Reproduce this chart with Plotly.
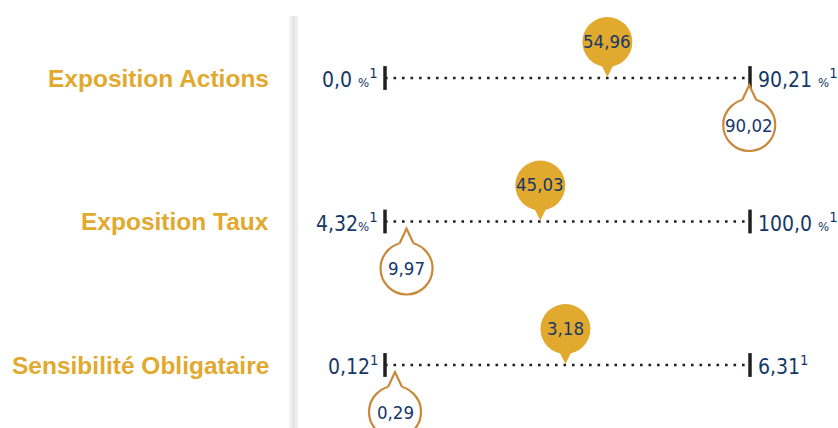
import plotly.graph_objects as go

# ---- data ----
rows = ["Exposition Actions", "Exposition Taux", "Sensibilité Obligataire"]
range_min = [0.0, 4.32, 0.12]
range_max = [90.21, 100.0, 6.31]
min_labels = ["0,0", "4,32", "0,12"]
max_labels = ["90,21", "100,0", "6,31"]
units = ["%", "%", ""]
category_values = [54.96, 45.03, 3.18]
category_labels = ["54,96", "45,03", "3,18"]
fund_values = [90.02, 9.97, 0.29]
fund_labels = ["90,02", "9,97", "0,29"]

# ---- style ----
W, H = 838, 428
GOLD = "#E1A92E"
BROWN = "#C8893B"
NAVY = "#163868"
DARK = "#231F20"
NUMFONT = "DejaVu Sans Condensed, Roboto, sans-serif"
LBLFONT = "Liberation Sans, Arial, sans-serif"
PX_LO, PX_HI = 385, 750  # pixel span of each scale line

fig = go.Figure()
shapes = []
annotations = []
xaxes = {}

for i, name in enumerate(rows):
    xa = "x" if i == 0 else f"x{i+1}"
    lo, hi = range_min[i], range_max[i]
    per_px = (hi - lo) / (PX_HI - PX_LO)
    xaxes["xaxis" if i == 0 else f"xaxis{i+1}"] = dict(
        range=[lo - PX_LO * per_px, hi + (W - PX_HI) * per_px],
        visible=False, showgrid=False, zeroline=False, fixedrange=True, domain=[0, 1],
        **({} if i == 0 else {"overlaying": "x"}))
    # dotted line
    fig.add_trace(go.Scatter(x=[lo, hi], y=[i, i], xaxis=xa, yaxis="y", mode="lines",
                             line=dict(color=DARK, width=2.6, dash="2.6px,5.9px"),
                             hoverinfo="skip", showlegend=False))
    # end ticks
    fig.add_trace(go.Scatter(x=[lo, hi], y=[i, i], xaxis=xa, yaxis="y", mode="markers",
                             marker=dict(symbol="line-ns", size=17,
                                         line=dict(color=DARK, width=3.5)),
                             hoverinfo="skip", showlegend=False))
    pct = "<span style='font-size:13px'>%</span>" if units[i] else ""
    sup = "<sup>1</sup>"
    left_txt = min_labels[i] + (" " + pct if i == 0 else pct) + sup
    right_txt = max_labels[i] + (" " + pct if pct else "") + sup
    annotations.append(dict(xref=xa, yref="y", x=lo, y=i, xanchor="right", yanchor="middle",
                            xshift=-5, text=left_txt, showarrow=False,
                            font=dict(family=NUMFONT, size=21, color=NAVY)))
    annotations.append(dict(xref=xa, yref="y", x=hi, y=i, xanchor="left", yanchor="middle",
                            xshift=6, text=right_txt, showarrow=False,
                            font=dict(family=NUMFONT, size=21, color=NAVY)))
    # row label
    annotations.append(dict(xref="paper", yref="y", x=271 / W, y=i, xanchor="right",
                            yanchor="middle", text=f"<b>{name}</b>", showarrow=False,
                            font=dict(family=LBLFONT, size=24.5, color=GOLD)))

    common = dict(xref=xa, yref="y", xsizemode="pixel", ysizemode="pixel", layer="above")
    # filled bubble (category)
    cv = category_values[i]
    shapes.append(dict(type="circle", xanchor=cv, yanchor=i, x0=-25, x1=25, y0=11, y1=61,
                       fillcolor=GOLD, line=dict(width=0), **common))
    shapes.append(dict(type="path", xanchor=cv, yanchor=i,
                       path="M -7 15 L 0 1 L 7 15 Z",
                       fillcolor=GOLD, line=dict(width=0), **common))
    annotations.append(dict(xref=xa, yref="y", x=cv, y=i, yshift=37, text=category_labels[i],
                            showarrow=False, xanchor="center", yanchor="middle",
                            font=dict(family=NUMFONT, size=18.5, color=NAVY)))

    # outlined bubble (fund)
    fv = fund_values[i]
    shapes.append(dict(type="circle", xanchor=fv, yanchor=i, x0=-26, x1=26, y0=-73, y1=-21,
                       fillcolor="white", line=dict(color=BROWN, width=2.2), **common))
    shapes.append(dict(type="path", xanchor=fv, yanchor=i,
                       path="M -7 -25 L -7 -22 L 0 -7 L 7 -22 L 7 -25 Z",
                       fillcolor="white", line=dict(width=0), **common))
    shapes.append(dict(type="path", xanchor=fv, yanchor=i,
                       path="M -7 -22 L 0 -7 L 7 -22",
                       fillcolor="rgba(0,0,0,0)", line=dict(color=BROWN, width=2.2), **common))
    annotations.append(dict(xref=xa, yref="y", x=fv, y=i, yshift=-47, text=fund_labels[i],
                            showarrow=False, xanchor="center", yanchor="middle",
                            font=dict(family=NUMFONT, size=18.5, color=NAVY)))

# separator shadow
for x0, x1, c in [(289, 292, "#f3f3f3"), (292, 295, "#e4e4e4"), (295, 298, "#eeeeee")]:
    shapes.append(dict(type="rect", xref="paper", yref="paper", x0=x0 / W, x1=x1 / W,
                       y0=0, y1=1 - 16 / H, fillcolor=c, line=dict(width=0), layer="below"))

row_px = [78, 221.5, 365]
step = row_px[1] - row_px[0]
y_top = -row_px[0] / step
y_bot = (H - row_px[0]) / step

fig.update_layout(
    width=W, height=H, margin=dict(l=0, r=0, t=0, b=0),
    paper_bgcolor="white", plot_bgcolor="rgba(0,0,0,0)",
    yaxis=dict(range=[y_bot, y_top], visible=False, showgrid=False, zeroline=False,
               fixedrange=True, domain=[0, 1]),
    shapes=shapes, annotations=annotations, showlegend=False,
    **xaxes,
)

fig.write_html("out.html", config={"displayModeBar": False},
               post_script="document.body.style.margin='0';")
